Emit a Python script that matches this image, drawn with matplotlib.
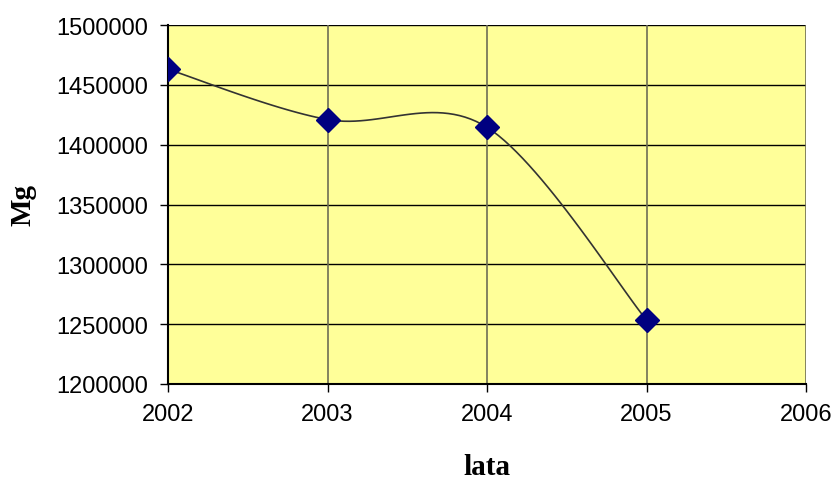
import numpy as np
import matplotlib.pyplot as plt

years = [2002, 2003, 2004, 2005]
mass = [1463000, 1421000, 1414500, 1253500]
x_ticks = [2002, 2003, 2004, 2005, 2006]
y_ticks = np.arange(1200000, 1500001, 50000)


def smooth(xs, ys, n=30):
    # Excel-like smoothed line: Catmull-Rom segments as cubic Bezier
    p = np.column_stack([xs, ys]).astype(float)
    p_ext = np.vstack([p[0], p, p[-1]])
    out = []
    t = np.linspace(0, 1, n)[:, None]
    for i in range(len(p) - 1):
        p0, p1, p2, p3 = p_ext[i], p_ext[i + 1], p_ext[i + 2], p_ext[i + 3]
        c1 = p1 + (p2 - p0) / 6
        c2 = p2 - (p3 - p1) / 6
        seg = ((1 - t) ** 3) * p1 + 3 * ((1 - t) ** 2) * t * c1 + 3 * (1 - t) * t ** 2 * c2 + t ** 3 * p2
        out.append(seg if i == 0 else seg[1:])
    s = np.vstack(out)
    return s[:, 0], s[:, 1]


plt.rcParams['font.family'] = ['Liberation Sans', 'DejaVu Sans']

fig = plt.figure(figsize=(8.33, 4.81), dpi=100)
ax = fig.add_axes([168 / 833, 1 - 385 / 481, (806 - 168) / 833, (385 - 26) / 481])
ax.set_facecolor('#FFFF99')

sx, sy = smooth(years, mass)
ax.plot(sx, sy, color='#333333', lw=1.2, zorder=3)
ax.plot(years, mass, linestyle='none', marker='D', ms=12.5, color='#000080', zorder=4)

ax.set_xlim(2002, 2006)
ax.set_ylim(1200000, 1500000)
ax.set_xticks(x_ticks)
ax.set_yticks(y_ticks)
ax.set_yticklabels([str(v) for v in y_ticks])
ax.tick_params(labelsize=17, length=6, width=1, direction='out', color='black')
ax.tick_params(axis='x', pad=8)
ax.tick_params(axis='y', pad=8)

for y in y_ticks:
    ax.axhline(y, color='black', lw=1, zorder=1)
for x in x_ticks:
    ax.axvline(x, color='#6e6e55', lw=1.2, zorder=1)

for s in ['top', 'right']:
    ax.spines[s].set_visible(False)
for s in ['left', 'bottom']:
    ax.spines[s].set_linewidth(1.5)
    ax.spines[s].set_color('black')

fig.text(487 / 833, 1 - 468 / 481, 'lata', family=['Liberation Serif'], fontweight='bold',
         fontsize=21, ha='center', va='center')
fig.text(23 / 833, 1 - 205 / 481, 'Mg', family=['Liberation Serif'], fontweight='bold',
         fontsize=21, ha='center', va='center', rotation=90)

fig.savefig('out.png', dpi=100)
